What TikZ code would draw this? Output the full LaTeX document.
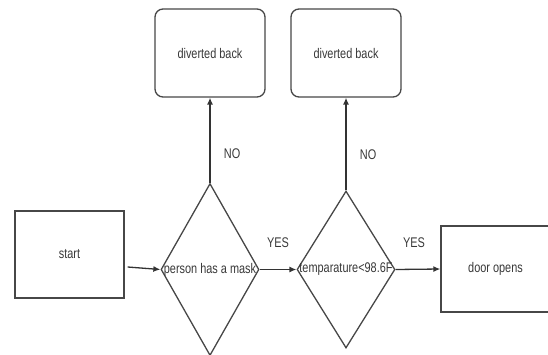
\documentclass[tikz,border=0pt]{standalone}
\usepackage{fontspec}
\setmainfont[FakeStretch=0.78]{Liberation Sans}
\usepackage{tikz}
\usetikzlibrary{shapes.geometric,arrows.meta}

\tikzset{
  box/.style={draw=black!72, line width=1.3pt, minimum width=109pt, minimum height=87pt, inner sep=0pt},
  backbox/.style={box, rounded corners=8pt, minimum width=110pt, minimum height=88pt},
  decide/.style={draw=black!72, line width=1.3pt, diamond, inner sep=0pt, minimum width=98pt},
  flow/.style={draw=black!80, line width=1.3pt, -{Latex[length=7pt,width=6pt]}},
  lbl/.style={font=\fontsize{14}{16}\selectfont, text=black!78}
}

\begin{document}
\begin{tikzpicture}[x=1pt, y=1pt, every node/.append style={font=\fontsize{14}{16}\selectfont, text=black!78}]
  \useasboundingbox (0,0) rectangle (548,354);
  \node[box] (start) at (69.5,99.5) {start};
  \node[decide, minimum height=172pt] (mask) at (210,84.5) {\makebox[0pt]{person has a mask}};
  \node[decide, minimum height=157pt] (temp) at (346,84.5) {\makebox[0pt]{temparature<98.6F}};
  \node[box, minimum height=86pt] (door) at (495.5,85) {door opens};
  \node[backbox] (back1) at (210,301) {diverted back};
  \node[backbox] (back2) at (346,301) {diverted back};

  \draw[flow] ([xshift=3pt]start.east |- 0,87) -- (mask.west);
  \draw[flow] (mask.east) -- (temp.west) node[midway, above=18pt, lbl] {YES};
  \draw[flow] (temp.east) -- (door.west) node[midway, xshift=-4pt, above=18pt, lbl] {YES};
  \draw[flow] (mask.north) -- (back1.south) node[pos=0.34, right=10pt, lbl] {NO};
  \draw[flow] (temp.north) -- (back2.south) node[pos=0.39, right=10pt, lbl] {NO};
\end{tikzpicture}
\end{document}
